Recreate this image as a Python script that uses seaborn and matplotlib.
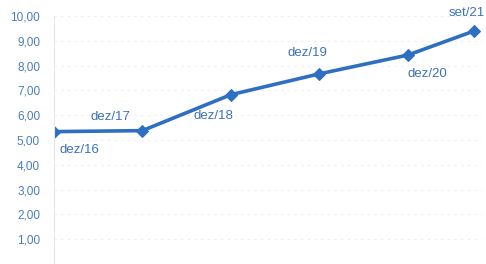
import matplotlib
matplotlib.use("Agg")
import matplotlib.pyplot as plt
import seaborn as sns
import pandas as pd

labels = ["dez/16", "dez/17", "dez/18", "dez/19", "dez/20", "set/21"]
dates = ["2016-12-31", "2017-12-31", "2018-12-31", "2019-12-31", "2020-12-31", "2021-09-30"]
values = [5.34, 5.38, 6.83, 7.67, 8.43, 9.40]
yticks = [1, 2, 3, 4, 5, 6, 7, 8, 9, 10]

df = pd.DataFrame({"date": pd.to_datetime(dates), "value": values, "label": labels})

sns.set_theme(style="white")
plt.rcParams["font.family"] = ["Liberation Sans", "DejaVu Sans"]

line_color = "#2f6fc2"
text_color = "#3d72b8"

fig = plt.figure(figsize=(4.86, 2.64), dpi=100)
ax = fig.add_axes([0.111, 0.0, 0.88, 0.939])
sns.lineplot(data=df, x="date", y="value", ax=ax, color=line_color, linewidth=2.6,
             marker="D", markersize=6, markeredgecolor=line_color)

ax.set_ylim(0, 10)
ax.set_xlim(pd.Timestamp("2016-12-31"), pd.Timestamp("2021-10-31"))
ax.set_yticks(yticks)
ax.set_yticklabels([f"{v:.2f}".replace(".", ",") for v in yticks], color="#4a7dbd", fontsize=8.5)
ax.set_xticks([])
ax.set_xlabel("")
ax.set_ylabel("")
ax.tick_params(axis="y", length=0, pad=10)
ax.yaxis.grid(True, color="#eeeeee", linestyle=(0, (2, 4)), linewidth=0.8)
for s in ["top", "right", "bottom"]:
    ax.spines[s].set_visible(False)
ax.spines["left"].set_color("#e6e6e6")
ax.spines["left"].set_linewidth(0.8)

# (dx, dy, ha)
offsets = [(4, -13, "left"), (-9, 10, "right"), (2, -15, "right"),
           (6, 15, "right"), (0, -14, "left"), (8, 13, "right")]
for (_, r), (dx, dy, ha) in zip(df.iterrows(), offsets):
    ax.annotate(r["label"], (r["date"], r["value"]), xytext=(dx, dy), textcoords="offset points",
                color=text_color, fontsize=9.5, ha=ha, va="center")

fig.savefig("out.png", dpi=100)
